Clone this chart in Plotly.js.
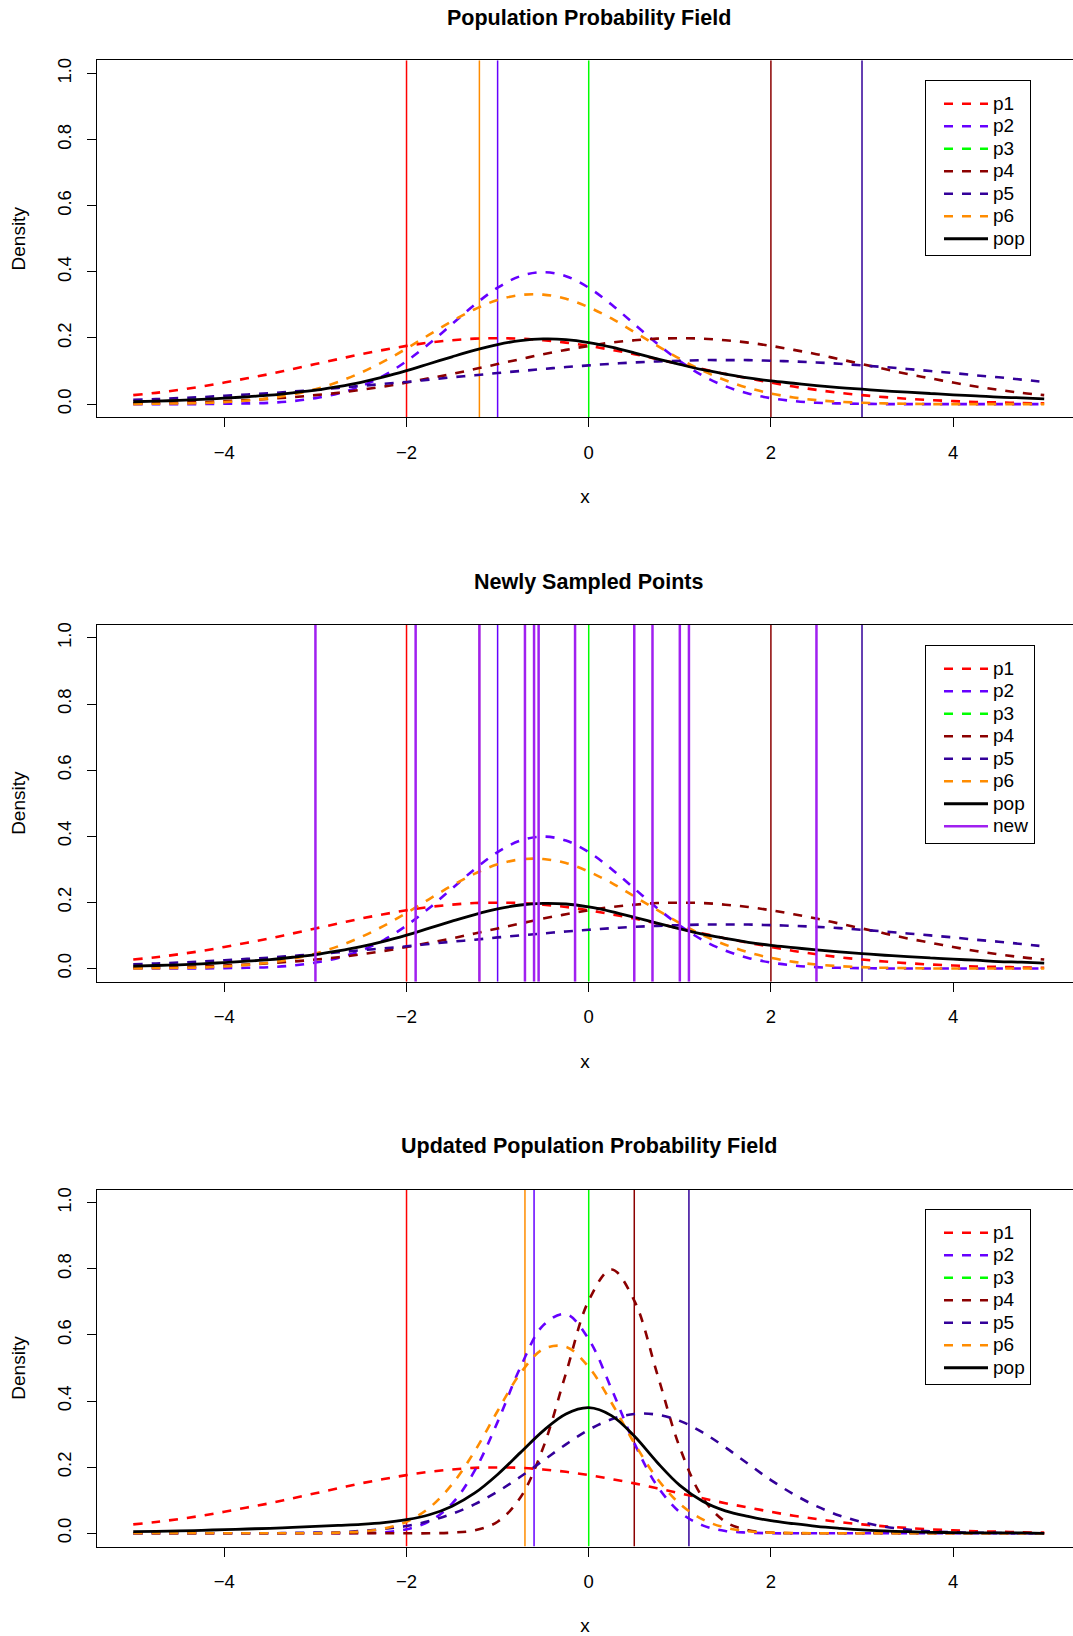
<!DOCTYPE html>
<html><head><meta charset="utf-8">
<script src="https://cdn.plot.ly/plotly-3.0.1.min.js"></script>
<style>html,body{margin:0;padding:0;background:#fff}#chart{width:1073px;height:1636px}</style>
</head><body><div id="chart"></div>
<script>
// ---------------- data ----------------
const panelTitles = ['Population Probability Field', 'Newly Sampled Points', 'Updated Population Probability Field'];
const seriesNames = ['p1', 'p2', 'p3', 'p4', 'p5', 'p6'];
const xTicks = [-4, -2, 0, 2, 4];
const yTicks = [0, 0.2, 0.4, 0.6, 0.8, 1.0];
const yTickText = ['0.0', '0.2', '0.4', '0.6', '0.8', '1.0'];

const xGrid = [-5,-4.75,-4.5,-4.25,-4,-3.75,-3.5,-3.25,-3,-2.75,-2.5,-2.25,-2,-1.75,-1.5,-1.25,-1,-0.75,-0.5,-0.25,0,0.25,0.5,0.75,1,1.25,1.5,1.75,2,2.25,2.5,2.75,3,3.25,3.5,3.75,4,4.25,4.5,4.75,5];

// initial population (panels 1 and 2)
const p1 = [0.027,0.034,0.043,0.053,0.065,0.078,0.091,0.106,0.121,0.136,0.151,0.164,0.176,0.186,0.193,0.198,0.199,0.198,0.193,0.186,0.176,0.164,0.151,0.136,0.121,0.106,0.091,0.078,0.065,0.053,0.043,0.034,0.027,0.021,0.016,0.012,0.009,0.006,0.005,0.003,0.002];
const p2 = [0,0,0,0,0.001,0.002,0.004,0.009,0.018,0.032,0.054,0.086,0.130,0.183,0.242,0.301,0.352,0.387,0.399,0.387,0.352,0.301,0.242,0.183,0.130,0.086,0.054,0.032,0.018,0.009,0.004,0.002,0.001,0,0,0,0,0,0,0,0];
const p3 = [null];   // p3 has no visible density curve (legend entry only)
const p4 = [0.002,0.003,0.005,0.006,0.009,0.012,0.016,0.021,0.027,0.034,0.043,0.053,0.065,0.078,0.091,0.106,0.121,0.136,0.151,0.164,0.176,0.186,0.193,0.198,0.199,0.198,0.193,0.186,0.176,0.164,0.151,0.136,0.121,0.106,0.091,0.078,0.065,0.053,0.043,0.034,0.027];
const p5 = [0.013,0.015,0.018,0.021,0.025,0.029,0.033,0.038,0.043,0.049,0.055,0.061,0.067,0.074,0.081,0.087,0.094,0.100,0.106,0.112,0.117,0.122,0.126,0.129,0.131,0.133,0.133,0.133,0.131,0.129,0.126,0.122,0.117,0.112,0.106,0.100,0.094,0.087,0.081,0.074,0.067];
const p6 = [0,0.001,0.002,0.003,0.006,0.011,0.018,0.029,0.045,0.067,0.095,0.129,0.168,0.210,0.251,0.287,0.315,0.330,0.331,0.319,0.293,0.259,0.218,0.177,0.137,0.101,0.072,0.049,0.032,0.020,0.012,0.007,0.004,0.002,0.001,0,0,0,0,0,0];
const pop = [0.007,0.009,0.011,0.014,0.018,0.022,0.027,0.034,0.042,0.053,0.066,0.082,0.101,0.122,0.143,0.163,0.180,0.192,0.197,0.195,0.186,0.172,0.155,0.137,0.120,0.104,0.091,0.079,0.070,0.063,0.056,0.050,0.045,0.040,0.036,0.032,0.028,0.025,0.021,0.019,0.016];
const centers = [-2, -1, 0, 2, 3, -1.2];            // vertical lines p1..p6

// newly sampled points (panel 2)
const newPoints = [-3, -1.9, -1.2, -0.7, -0.6, -0.55, -0.15, 0.5, 0.7, 1.0, 1.1, 2.5];

// updated population (panel 3)
const p1Upd = [0.027,0.034,0.043,0.053,0.065,0.078,0.091,0.106,0.121,0.136,0.151,0.164,0.176,0.186,0.193,0.198,0.199,0.198,0.193,0.186,0.176,0.164,0.151,0.136,0.121,0.106,0.091,0.078,0.065,0.053,0.043,0.034,0.027,0.021,0.016,0.012,0.009,0.006,0.005,0.003,0.002];
const p2Upd = [0,0,0,0,0,0,0,0,0,0,0.001,0.003,0.012,0.036,0.090,0.190,0.337,0.502,0.629,0.663,0.587,0.437,0.273,0.144,0.064,0.024,0.007,0.002,0,0,0,0,0,0,0,0,0,0,0,0,0];
const p3Upd = [null];
const p4Upd = [0,0,0,0,0,0,0,0,0,0,0,0,0,0,0.002,0.009,0.035,0.108,0.259,0.484,0.704,0.798,0.704,0.484,0.259,0.108,0.035,0.009,0.002,0,0,0,0,0,0,0,0,0,0,0,0];
const p5Upd = [0,0,0,0,0,0,0,0.001,0.002,0.003,0.007,0.013,0.022,0.037,0.059,0.088,0.126,0.171,0.220,0.269,0.313,0.345,0.361,0.359,0.340,0.305,0.260,0.210,0.161,0.118,0.082,0.054,0.034,0.020,0.011,0.006,0.003,0.002,0.001,0,0];
const p6Upd = [0,0,0,0,0,0,0,0,0,0.002,0.005,0.014,0.035,0.077,0.148,0.249,0.370,0.484,0.557,0.564,0.503,0.395,0.273,0.166,0.089,0.042,0.017,0.006,0.002,0.001,0,0,0,0,0,0,0,0,0,0,0];
const popUpd = [0.005,0.006,0.007,0.009,0.011,0.013,0.015,0.018,0.021,0.024,0.027,0.032,0.041,0.056,0.082,0.122,0.178,0.244,0.310,0.361,0.380,0.356,0.294,0.215,0.145,0.097,0.068,0.051,0.038,0.029,0.021,0.015,0.010,0.007,0.005,0.003,0.002,0.001,0.001,0.001,0];
const centersUpd = [-2, -0.6, 0, 0.5, 1.1, -0.7];

// ---------------- styling ----------------
const colors = ['#FF0000', '#6600FF', '#00FF00', '#8B0000', '#330099', '#FF8C00'];
const newColor = '#A020F0';
const FONT = '"Liberation Sans", Arial, Helvetica, sans-serif';
const W = 1073, H = 1636;
const panelTops = [60.3, 624.7, 1189.5];
const panelH = 357;
const plotLeft = 96.8, xZero = 588.7, xUnit = 91.1;
const xRange = [-5.4, (W - xZero) / xUnit];
const yRange = [-0.04, 1.04];
const titleY = [18, 581.5, 1146];
const legendTops = [80, 645, 1209];
const legendLeft = 925;
const legendLabel = s => '<span style="font-size:19px">' + s + '</span>';

const panels = [
  {curves: [p1, p2, p3, p4, p5, p6], popCurve: pop, vlines: centers, extra: null},
  {curves: [p1, p2, p3, p4, p5, p6], popCurve: pop, vlines: centers, extra: newPoints},
  {curves: [p1Upd, p2Upd, p3Upd, p4Upd, p5Upd, p6Upd], popCurve: popUpd, vlines: centersUpd, extra: null}
];

const traces = [];
const annotations = [];
const layout = {
  width: W, height: H,
  margin: {l: 0, r: 0, t: 0, b: 0, pad: 0},
  paper_bgcolor: '#ffffff', plot_bgcolor: '#ffffff',
  font: {family: FONT, size: 18, color: '#000000'},
  showlegend: true
};

panels.forEach((pn, k) => {
  const n = k === 0 ? '' : String(k + 1);
  const xa = 'x' + n, ya = 'y' + n;
  const lg = 'legend' + n;
  const top = panelTops[k];
  const dom = [1 - (top + panelH) / H, 1 - top / H];

  layout['xaxis' + n] = {
    domain: [plotLeft / W, 1], range: xRange, anchor: ya,
    tickmode: 'array', tickvals: xTicks, ticks: 'outside', ticklen: 9, tickwidth: 1, tickcolor: '#000',
    showline: true, mirror: true, linecolor: '#000', linewidth: 1,
    showgrid: false, zeroline: false, fixedrange: true,
    tickfont: {family: FONT, size: 18.5, color: '#000'}, ticklabelstandoff: 9,
    title: {text: 'x', font: {family: FONT, size: 19, color: '#000'}, standoff: 28}
  };
  layout['yaxis' + n] = {
    domain: dom, range: yRange, anchor: xa,
    tickmode: 'array', tickvals: yTicks, ticktext: yTickText, tickangle: -90,
    ticks: 'outside', ticklen: 9, tickwidth: 1, tickcolor: '#000',
    showline: true, mirror: false, linecolor: '#000', linewidth: 1,
    showgrid: false, zeroline: false, fixedrange: true,
    tickfont: {family: FONT, size: 18.5, color: '#000'}, ticklabelstandoff: 8,
    title: {text: 'Density', font: {family: FONT, size: 19, color: '#000'}, standoff: 23}
  };
  layout[lg] = {
    x: legendLeft / W, y: 1 - legendTops[k] / H, xanchor: 'left', yanchor: 'top',
    bgcolor: '#ffffff', bordercolor: '#000000', borderwidth: 1,
    font: {family: FONT, size: 15, color: '#000'}, indentation: 13, itemwidth: 44,
    tracegroupgap: 0,
    title: {text: '&nbsp;', side: 'top', font: {family: FONT, size: 5, color: '#ffffff'}}
  };

  annotations.push({
    xref: 'paper', yref: 'paper', x: xZero / W, y: 1 - titleY[k] / H,
    xanchor: 'center', yanchor: 'middle', showarrow: false,
    text: '<b>' + panelTitles[k] + '</b>',
    font: {family: FONT, size: 21.5, color: '#000'}
  });

  // vertical marker lines for p1..p6 (drawn first, beneath the curves)
  pn.vlines.forEach((v, i) => {
    traces.push({
      type: 'scatter', mode: 'lines', name: seriesNames[i] + ' marker', showlegend: false,
      x: [v, v], y: yRange, xaxis: xa, yaxis: ya, hoverinfo: 'skip',
      line: {color: colors[i], width: 1.5}
    });
  });

  pn.curves.forEach((c, i) => {
    const hasCurve = c.some(v => v !== null);
    traces.push({
      type: 'scatter', mode: 'lines', name: legendLabel(seriesNames[i]),
      x: hasCurve ? xGrid : [xGrid[0]], y: c,
      xaxis: xa, yaxis: ya, legend: lg, hoverinfo: 'skip',
      line: {color: colors[i], width: 2.6, dash: '9px,9px', shape: 'spline', smoothing: 1}
    });
  });
  traces.push({
    type: 'scatter', mode: 'lines', name: legendLabel('pop'), x: xGrid, y: pn.popCurve,
    xaxis: xa, yaxis: ya, legend: lg, hoverinfo: 'skip',
    line: {color: '#000000', width: 2.8, shape: 'spline', smoothing: 1}
  });
  if (pn.extra) {
    const vx = [], vy = [];
    pn.extra.forEach(v => { vx.push(v, v, null); vy.push(yRange[0], yRange[1], null); });
    traces.push({
      type: 'scatter', mode: 'lines', name: legendLabel('new'), x: vx, y: vy,
      xaxis: xa, yaxis: ya, legend: lg, hoverinfo: 'skip',
      line: {color: newColor, width: 2.5}
    });
  }
});

layout.annotations = annotations;

Plotly.newPlot('chart', traces, layout, {displayModeBar: false, staticPlot: true});
</script>
</body></html>
